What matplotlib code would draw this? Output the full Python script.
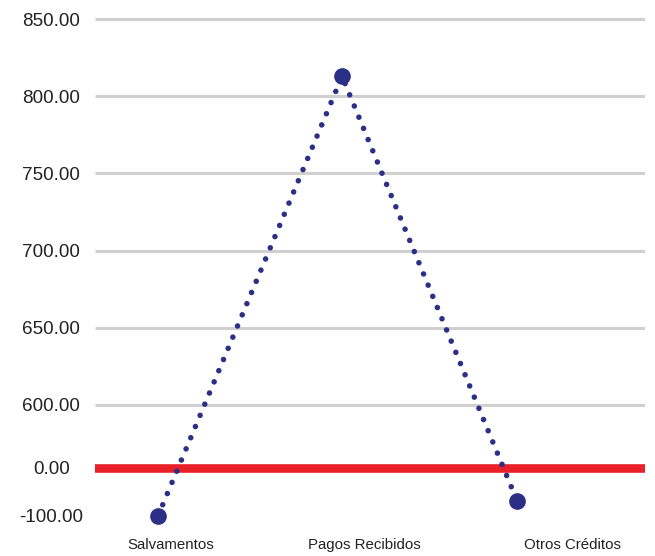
import numpy as np
import matplotlib.pyplot as plt

categories = ['Salvamentos', 'Pagos Recibidos', 'Otros Créditos']
values = [-100, 813, -69]
ytick_vals = [-100, 0, 600, 650, 700, 750, 800, 850]
grid_vals = [600, 650, 700, 750, 800, 850]


def forward(v):
	# broken axis: 0..-100 and 0..600 squeezed, above 600 normal
	v = np.asarray(v, dtype=float)
	return np.where(v < 0, (v + 100) * 0.48,
		np.where(v < 600, 48 + v * 63 / 600, 111 + (v - 600) * 1.54))


def inverse(u):
	u = np.asarray(u, dtype=float)
	return np.where(u < 48, u / 0.48 - 100,
		np.where(u < 111, (u - 48) * 600 / 63, 600 + (u - 111) / 1.54))


plt.rcParams['font.family'] = ['Liberation Sans', 'DejaVu Sans']

fig = plt.figure(figsize=(6.55, 5.56), dpi=100)
ax = fig.add_axes([0.145, 0.047, 0.84, 0.935])
ax.set_yscale('function', functions=(forward, inverse))

x = np.arange(len(categories)) + np.array([0, 0.025, 0])
ax.hlines(grid_vals, -0.351, 2.713, color='#d0d0d0', linewidth=2.2, zorder=1)
ax.axhline(0, color='#e8202a', linewidth=6.2, zorder=2)
ax.plot(x, values, color='#2b2f86', linestyle=(0, (0.01, 2.17)), linewidth=4.0,
	dash_capstyle='round', zorder=3)
ax.plot(x, values, 'o', color='#2b2f86', markersize=11, zorder=4)

ax.set_xlim(-0.351, 2.713)
ax.set_ylim(-129, 856)
ax.set_yticks(ytick_vals)
ax.set_yticklabels(['%.2f' % v for v in ytick_vals], fontsize=13.6, color='#222222',
	ha='center')
label_pos = np.arange(len(categories)) + np.array([0.07, 0.15, 0.31])
ax.set_xticks(label_pos)
ax.set_xticklabels(categories, fontsize=10.8, color='#222222')
ax.tick_params(axis='both', length=0)
ax.tick_params(axis='y', pad=31.5)
ax.tick_params(axis='x', pad=6)
ax.yaxis.set_minor_locator(plt.NullLocator())
for s in ax.spines.values():
	s.set_visible(False)

fig.savefig('out.png', dpi=100)
